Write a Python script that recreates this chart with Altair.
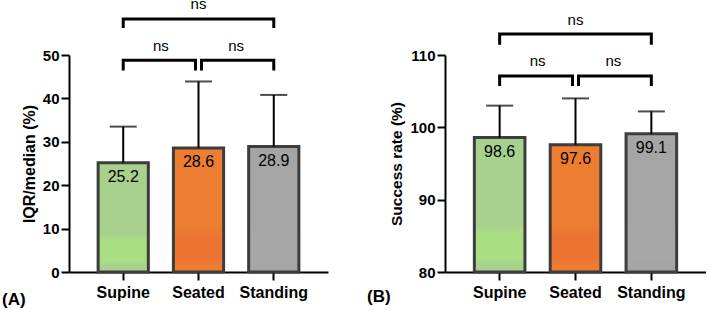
import altair as alt
import pandas as pd

FONT = "Liberation Sans"

positions = ["Supine", "Seated", "Standing"]
bar_colors = ["#a9d18e", "#ed7d31", "#a5a5a5"]
bar_colors_low = ["#a9de83", "#ec7331", "#a7a7a7"]

# Panel A: IQR/median (%)
iqr_mean = [25.2, 28.6, 28.9]
iqr_upper = [33.5, 43.9, 40.8]
iqr_ticks = [0, 10, 20, 30, 40, 50]

# Panel B: Success rate (%)
succ_mean = [98.6, 97.6, 99.1]
succ_upper = [103.0, 104.0, 102.2]
succ_ticks = [80, 90, 100, 110]

# significance comparisons
comp_from = ["Supine", "Seated", "Supine"]
comp_to = ["Seated", "Standing", "Standing"]
comp_label = ["ns", "ns", "ns"]
iqr_bracket_top = [48.8, 48.8, 58.3]
iqr_bracket_leg = [46.4, 46.4, 56.2]
succ_bracket_top = [107.1, 107.1, 112.9]
succ_bracket_leg = [105.7, 105.7, 111.4]

PAD_INNER = 0.333
PAD_OUTER = 0.387
GAP = 3  # px gap between adjacent brackets


def panel(means, uppers, btop, bleg, domain, ticks, ytitle, title_size, width, height,
          tag, tag_x, tag_y):
    step = width / (len(positions) - PAD_INNER + 2 * PAD_OUTER)
    half_band = step * (1 - PAD_INNER) / 2
    df = pd.DataFrame({"pos": positions, "mean": means, "upper": uppers})

    xaxis = alt.Axis(title=None, labelAngle=0, labelFont=FONT, labelFontSize=16,
                     labelFontWeight="bold", labelColor="black", labelPadding=4,
                     tickSize=8, tickWidth=2, tickColor="black",
                     domainWidth=2, domainColor="black", grid=False)
    xscale = alt.Scale(domain=positions, paddingInner=PAD_INNER, paddingOuter=PAD_OUTER)
    yaxis = alt.Axis(values=ticks, labelFont=FONT, labelFontSize=15, labelFontWeight="bold",
                     labelColor="black", labelPadding=2, tickSize=8, tickWidth=2,
                     tickColor="black", domainWidth=2, domainColor="black", grid=False,
                     titleFont=FONT, titleFontSize=title_size, titleFontWeight="bold",
                     titleColor="black", titlePadding=5)
    yscale = alt.Scale(domain=domain, zero=False, nice=False)

    def X(field="pos"):
        return alt.X(f"{field}:N", scale=xscale, axis=xaxis, sort=positions)

    def Y(field):
        return alt.Y(f"{field}:Q", scale=yscale, axis=yaxis, title=ytitle)

    layers = []
    for name, c_top, c_low in zip(positions, bar_colors, bar_colors_low):
        grad = alt.LinearGradient(
            gradient="linear", x1=0, x2=0, y1=0, y2=1,
            stops=[alt.GradientStop(color=c_top, offset=0),
                   alt.GradientStop(color=c_top, offset=0.64),
                   alt.GradientStop(color=c_low, offset=0.72),
                   alt.GradientStop(color=c_low, offset=0.9),
                   alt.GradientStop(color=c_top, offset=0.95),
                   alt.GradientStop(color=c_top, offset=1)])
        layers.append(
            alt.Chart(df).transform_filter(alt.datum.pos == name)
            .mark_bar(fill=grad, stroke="#3d3d3d", strokeWidth=3)
            .encode(x=X(), y=Y("mean"), y2=alt.datum(domain[0])))

    err = alt.Chart(df).mark_rule(color="black", strokeWidth=2).encode(
        x=X(), y=Y("mean"), y2="upper:Q")
    cap = alt.Chart(df).mark_tick(color="black", thickness=2, size=27).encode(
        x=X(), y=Y("upper"))
    vals = alt.Chart(df).mark_text(font=FONT, fontSize=16, baseline="alphabetic",
                                   dy=19.5, color="black").encode(
        x=X(), y=Y("mean"), text=alt.Text("mean:Q", format=".1f"))

    # brackets
    rows = []
    lab = []
    for k, (a, b) in enumerate(zip(comp_from, comp_to)):
        ia, ib = positions.index(a), positions.index(b)
        same_level = [j for j in range(len(comp_from)) if j != k and btop[j] == btop[k]]
        off_a = half_band + (GAP if any(comp_to[j] == a for j in same_level) else 0)
        off_b = half_band - (GAP if any(comp_from[j] == b for j in same_level) else 0)
        rows += [
            {"grp": k, "ord": 0, "pos": a, "y": bleg[k], "off": off_a},
            {"grp": k, "ord": 1, "pos": a, "y": btop[k], "off": off_a},
            {"grp": k, "ord": 2, "pos": b, "y": btop[k], "off": off_b},
            {"grp": k, "ord": 3, "pos": b, "y": bleg[k], "off": off_b},
        ]
        lab.append({"pos": a, "y": btop[k], "off": half_band + (ib - ia) * step / 2,
                    "t": comp_label[k]})
    bdf = pd.DataFrame(rows)
    ldf = pd.DataFrame(lab)
    brackets = alt.Chart(bdf).mark_line(color="black", strokeWidth=3, strokeJoin="miter",
                                        strokeCap="butt").encode(
        x=X(), y=Y("y"), xOffset=alt.XOffset("off:Q", scale=None),
        detail="grp:N", order="ord:Q")
    blabels = alt.Chart(ldf).mark_text(font=FONT, fontSize=15, baseline="alphabetic",
                                       dy=-9.5, color="black").encode(
        x=X(), y=Y("y"), xOffset=alt.XOffset("off:Q", scale=None), text="t:N")

    tagc = alt.Chart(pd.DataFrame({"t": [tag]})).mark_text(
        font=FONT, fontSize=17, fontWeight="bold", align="left", baseline="alphabetic",
        color="black").encode(text="t:N", x=alt.value(tag_x), y=alt.value(tag_y))

    return alt.layer(*layers, err, cap, vals, brackets, blabels, tagc).properties(
        width=width, height=height)


pa = panel(iqr_mean, iqr_upper, iqr_bracket_top, iqr_bracket_leg, [0, 50], iqr_ticks,
           "IQR/median (%)", 16, 259, 217, "(A)", -67, 250)
pb = panel(succ_mean, succ_upper, succ_bracket_top, succ_bracket_leg, [80, 110], succ_ticks,
           "Success rate (%)", 15.5, 261, 217, "(B)", -78, 247)

chart = alt.hconcat(pa, pb, spacing=117, bounds="flush").properties(
    padding={"left": 2, "top": -3, "right": 0, "bottom": 0},
    background="white",
).configure_view(stroke=None)

chart.save("out.html", embed_options={"renderer": "svg", "actions": False})
